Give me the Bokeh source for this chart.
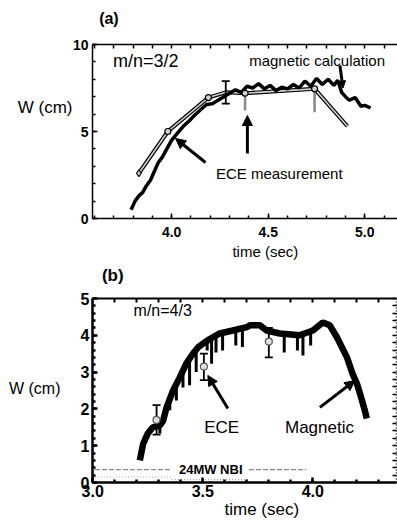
from bokeh.plotting import figure
from bokeh.layouts import column
from bokeh.models import Label, Arrow, NormalHead, LinearAxis, FixedTicker, PrintfTickFormatter, Range1d
from bokeh.embed import file_html
from bokeh.resources import INLINE
import numpy as np

FONT = "Liberation Sans"

# ---------------- Panel (a) data ----------------
mag_a_t = [3.79, 3.81, 3.83, 3.85, 3.87, 3.89, 3.91, 3.93, 3.95, 3.97,
           4.00, 4.03, 4.06, 4.09, 4.12, 4.15, 4.18, 4.21, 4.24, 4.27,
           4.30, 4.33, 4.36, 4.39, 4.42, 4.45, 4.48, 4.51, 4.54, 4.57,
           4.60, 4.63, 4.66, 4.69, 4.72, 4.75, 4.78, 4.81, 4.84, 4.86,
           4.88, 4.90, 4.92, 4.95, 4.98, 5.00, 5.03]
mag_a_w = [0.5, 1.0, 1.3, 1.5, 1.9, 2.2, 2.7, 3.2, 3.5, 3.9,
           4.5, 4.9, 5.3, 5.6, 5.95, 6.25, 6.55, 6.6, 6.8, 7.0,
           7.2, 7.4, 7.25, 7.6, 7.5, 7.75, 7.45, 7.65, 7.35, 7.55,
           7.45, 7.7, 7.5, 7.9, 7.6, 8.05, 7.7, 8.0, 7.65, 7.95,
           7.25, 7.0, 6.8, 6.95, 6.45, 6.5, 6.35]
ece_a_t = [3.83, 3.98, 4.19, 4.28, 4.38, 4.74, 4.91]
ece_a_w = [2.6, 5.0, 6.95, 7.25, 7.2, 7.45, 5.3]
ece_a_circ_t = [3.98, 4.19, 4.38, 4.74]
ece_a_circ_w = [5.0, 6.95, 7.2, 7.45]
err_a_t = [4.28]
err_a_lo = [6.6]
err_a_hi = [7.9]
gbar_a_t = [4.38, 4.74]
gbar_a_lo = [6.2, 6.1]
gbar_a_hi = [7.2, 7.45]
xticks_a = [4.0, 4.5, 5.0]
yticks_a = [0, 5, 10]

# ---------------- Panel (b) data ----------------
mag_b_t = [3.214, 3.229, 3.25, 3.273, 3.305, 3.32, 3.336, 3.365, 3.395, 3.425,
           3.455, 3.478, 3.5, 3.532, 3.577, 3.636, 3.7, 3.714, 3.76, 3.79,
           3.85, 3.94, 4.0, 4.045, 4.077, 4.11, 4.155, 4.18, 4.2, 4.214,
           4.236, 4.245]
mag_b_w = [0.6, 1.05, 1.33, 1.5, 1.55, 1.68, 2.05, 2.5, 2.85, 3.23,
           3.5, 3.67, 3.77, 3.9, 4.05, 4.13, 4.22, 4.27, 4.27, 4.13,
           4.05, 4.0, 4.13, 4.35, 4.27, 3.94, 3.4, 2.96, 2.69, 2.42,
           1.96, 1.74]
dip_t = [3.305, 3.35, 3.38, 3.41, 3.44, 3.47, 3.52, 3.54, 3.56, 3.59, 3.65, 3.68, 3.87, 3.93, 3.955, 3.99]
dip_hi = [1.55, 2.2, 2.65, 3.1, 3.4, 3.6, 3.85, 3.9, 4.0, 4.07, 4.15, 4.2, 4.05, 4.0, 4.0, 4.1]
dip_lo = [1.33, 1.96, 2.23, 2.58, 2.64, 3.0, 3.59, 3.23, 3.53, 3.59, 3.72, 3.68, 3.53, 3.59, 3.45, 3.72]
ece_b_t = [3.29, 3.505, 3.80]
ece_b_w = [1.7, 3.15, 3.83]
ece_b_lo = [1.3, 2.78, 3.4]
ece_b_hi = [2.1, 3.5, 4.2]
nbi_hi_t1 = [3.01, 3.36]
nbi_hi_t2 = [3.71, 3.97]
nbi_level_hi = 0.35
nbi_level_lo = 0.15
xticks_b = [3.0, 3.5, 4.0]
yticks_b = [0, 1, 2, 3, 4, 5]


def style_axis(ax, lw, fsize, standoff, major_in=5, minor_in=3):
    ax.axis_line_width = lw
    ax.axis_line_color = "black"
    ax.major_tick_in = major_in
    ax.major_tick_out = 0
    ax.minor_tick_in = minor_in
    ax.minor_tick_out = 0
    ax.major_tick_line_width = lw
    ax.minor_tick_line_width = lw
    ax.major_label_text_font = FONT
    ax.major_label_text_font_style = "bold"
    ax.major_label_text_color = "black"
    ax.major_label_standoff = standoff
    ax.major_label_text_font_size = fsize


def tick_only_axis(p, side, minor, lw, tick_len, line_color="black", dash=None):
    ax = LinearAxis(ticker=FixedTicker(ticks=[], minor_ticks=minor))
    ax.axis_line_width = lw
    ax.axis_line_color = line_color
    if dash:
        ax.axis_line_dash = dash
    ax.major_tick_in = 0
    ax.major_tick_out = 0
    ax.minor_tick_in = tick_len
    ax.minor_tick_out = 0
    ax.minor_tick_line_width = lw
    ax.major_label_standoff = 0
    p.add_layout(ax, side)


def text_axis(p, side, pos, text, size, style="normal", standoff=0):
    ax = LinearAxis(ticker=FixedTicker(ticks=[pos], minor_ticks=[]),
                    major_label_overrides={pos: text})
    ax.axis_line_color = None
    ax.major_tick_line_color = None
    ax.minor_tick_line_color = None
    ax.major_tick_in = 0
    ax.major_tick_out = 0
    ax.minor_tick_in = 0
    ax.minor_tick_out = 0
    ax.major_label_text_font = FONT
    ax.major_label_text_font_size = size
    ax.major_label_text_font_style = style
    ax.major_label_text_color = "black"
    ax.major_label_standoff = standoff
    p.add_layout(ax, side)


def lab(p, x, y, text, size, style="normal", align="center"):
    p.add_layout(Label(x=x, y=y, text=text, text_font=FONT, text_font_size=size,
                       text_font_style=style, text_align=align, text_baseline="middle",
                       text_color="black"))


def arrow(p, x0, y0, x1, y1, lw=3, size=10):
    p.add_layout(Arrow(x_start=x0, y_start=y0, x_end=x1, y_end=y1, line_width=lw,
                       line_color="black",
                       end=NormalHead(size=size, fill_color="black", line_color="black")))


# ---------------- Figure (a) ----------------
p1 = figure(frame_width=309, frame_height=174, output_backend="svg", toolbar_location=None,
            x_range=Range1d(3.59, 5.19), y_range=Range1d(0, 10),
            min_border_left=87, min_border_right=1, min_border_top=44, min_border_bottom=44,
            x_axis_location=None, y_axis_location=None)
p1.grid.visible = False
p1.outline_line_color = None
p1.background_fill_color = "white"
p1.border_fill_color = "white"

minor_x_a = list(np.round(np.arange(3.6, 5.2, 0.1), 2))
xt_a = FixedTicker(ticks=xticks_a, minor_ticks=minor_x_a)
yt_a = FixedTicker(ticks=yticks_a, minor_ticks=list(range(0, 11)))

ax = LinearAxis(ticker=xt_a, formatter=PrintfTickFormatter(format="%.1f"))
style_axis(ax, 1.5, "14px", 8)
p1.add_layout(ax, "below")
text_axis(p1, "below", 4.485, "time (sec)", "15px", standoff=3)

ax = LinearAxis(ticker=yt_a)
style_axis(ax, 1.5, "14px", 4)
p1.add_layout(ax, "left")
text_axis(p1, "left", 6.4, "W (cm)", "17px", standoff=-3)

tick_only_axis(p1, "above", minor_x_a, 1.5, 4)
text_axis(p1, "above", 3.675, "(a)", "16px", style="bold", standoff=18)
tick_only_axis(p1, "right", list(range(0, 11)), 1.5, 4, line_color=None)

# ECE measurement (outlined grey line)
p1.line(ece_a_t, ece_a_w, line_color="black", line_width=4)
p1.line(ece_a_t, ece_a_w, line_color="#d0d0d0", line_width=1.6)
p1.segment(gbar_a_t, gbar_a_lo, gbar_a_t, gbar_a_hi, line_color="#888888", line_width=2.5)
# magnetic calculation
p1.line(mag_a_t, mag_a_w, line_color="black", line_width=3.5)
# error bar
p1.segment(err_a_t, err_a_lo, err_a_t, err_a_hi, line_color="black", line_width=1.8)
p1.scatter(err_a_t + err_a_t, err_a_lo + err_a_hi, marker="dash", size=8,
           line_color="black", line_width=1.8)
p1.scatter(ece_a_circ_t, ece_a_circ_w, marker="circle", size=6, fill_color="#cfcfcf",
           line_color="black", line_width=1.2)
p1.scatter(ece_a_t[:1], ece_a_w[:1], marker="diamond", size=7, fill_color="#cfcfcf",
           line_color="black", line_width=1.2)

arrow(p1, 4.175, 3.22, 4.02, 4.6, lw=3, size=10)
arrow(p1, 4.392, 3.74, 4.392, 5.92, lw=3, size=10)
arrow(p1, 4.871, 8.8, 4.887, 7.5, lw=3, size=7)

lab(p1, 3.866, 9.08, "m/n=3/2", "18px")
lab(p1, 4.753, 9.08, "magnetic calculation", "15px")
lab(p1, 4.557, 2.59, "ECE measurement", "15px")

# ---------------- Figure (b) ----------------
p2 = figure(frame_width=304, frame_height=184, output_backend="svg", toolbar_location=None,
            x_range=Range1d(2.999, 4.38), y_range=Range1d(0, 5.0),
            min_border_left=92, min_border_right=1, min_border_top=36, min_border_bottom=44,
            x_axis_location=None, y_axis_location=None)
p2.grid.visible = False
p2.outline_line_color = None
p2.background_fill_color = "white"
p2.border_fill_color = "white"

minor_x_b = list(np.round(np.arange(3.0, 4.35, 0.1), 2))
minor_y_b = list(np.round(np.arange(0, 5.01, 0.2), 2))
xt_b = FixedTicker(ticks=xticks_b, minor_ticks=minor_x_b)
yt_b = FixedTicker(ticks=yticks_b, minor_ticks=minor_y_b)

ax = LinearAxis(ticker=xt_b, formatter=PrintfTickFormatter(format="%.1f"))
style_axis(ax, 2.5, "16px", 2)
p2.add_layout(ax, "below")
text_axis(p2, "below", 3.768, "time (sec)", "17px", standoff=0)

ax = LinearAxis(ticker=yt_b)
style_axis(ax, 2.5, "16px", 3)
p2.add_layout(ax, "left")
text_axis(p2, "left", 2.55, "W (cm)", "16px", standoff=17)

tick_only_axis(p2, "above", minor_x_b, 2, 4)
text_axis(p2, "above", 3.091, "(b)", "17px", style="bold", standoff=14)
tick_only_axis(p2, "right", minor_y_b, 1.5, 4, dash="1 2")

# NBI trace
p2.line(nbi_hi_t1, [nbi_level_hi] * 2, line_color="#8a8a8a", line_width=1.2, line_dash="5 2")
p2.line(nbi_hi_t2, [nbi_level_hi] * 2, line_color="#8a8a8a", line_width=1.2, line_dash="5 2")
p2.line(nbi_hi_t1, [nbi_level_lo] * 2, line_color="#aaaaaa", line_width=1.2, line_dash="1 2")
p2.line([nbi_hi_t1[1], nbi_hi_t2[0]], [0.08, 0.08], line_color="#aaaaaa", line_width=1.2, line_dash="1 2")

# magnetic
p2.line(mag_b_t, mag_b_w, line_color="black", line_width=6.5)
p2.segment(dip_t, dip_lo, dip_t, dip_hi, line_color="black", line_width=3)
# ECE
p2.segment(ece_b_t, ece_b_lo, ece_b_t, ece_b_hi, line_color="black", line_width=1.8)
p2.scatter(ece_b_t + ece_b_t, ece_b_lo + ece_b_hi, marker="dash", size=8,
           line_color="black", line_width=1.8)
p2.scatter(ece_b_t, ece_b_w, marker="circle", size=7, fill_color="#e0e0e0",
           line_color="#555555", line_width=1.2)

arrow(p2, 3.614, 2.01, 3.523, 2.91, lw=3, size=10)
arrow(p2, 4.032, 2.04, 4.191, 2.77, lw=3, size=10)

lab(p2, 3.318, 4.67, "m/n=4/3", "16px")
lab(p2, 3.586, 1.49, "ECE", "17px")
lab(p2, 4.03, 1.49, "Magnetic", "17px")
lab(p2, 3.536, 0.36, "24MW NBI", "13px", "bold")

layout = column(p1, p2, spacing=0)
open("out.html", "w").write(file_html(layout, INLINE))
